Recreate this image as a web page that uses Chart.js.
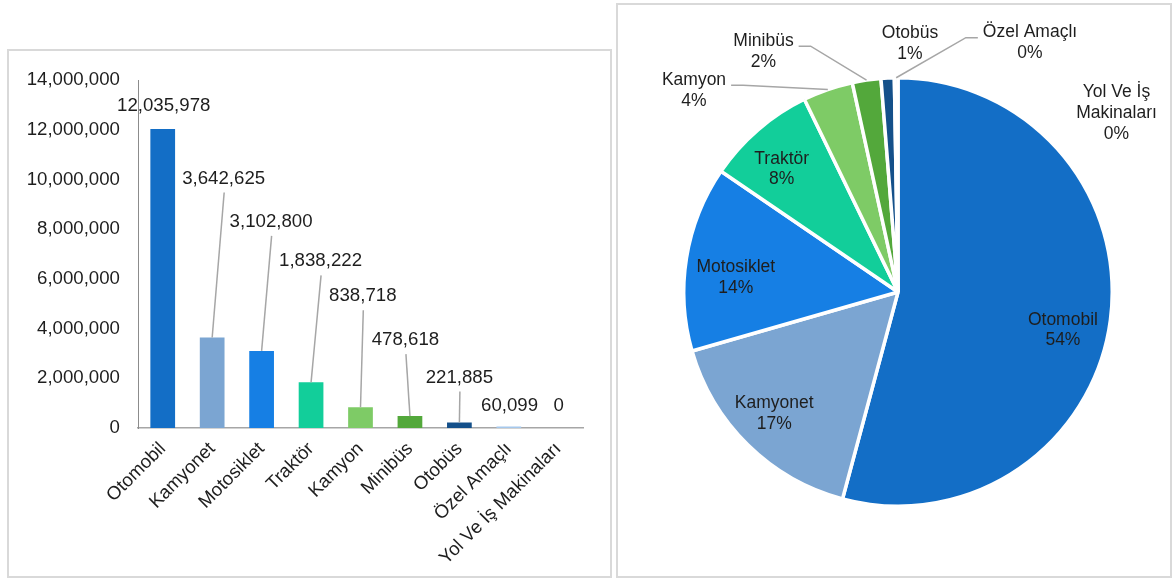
<!DOCTYPE html>
<html>
<head>
<meta charset="utf-8">
<script src="https://cdn.jsdelivr.net/npm/chart.js@4.4.1/dist/chart.umd.min.js"></script>
<style>
  html, body { margin: 0; padding: 0; background: #fff; width: 1173px; height: 581px; overflow: hidden; }
  .box { position: absolute; box-sizing: border-box; border: 2px solid #d9d9d9; background: #fff; }
  canvas { position: absolute; }
</style>
</head>
<body>
<div class="box" style="left:7px;top:49px;width:605px;height:529px"></div>
<div class="box" style="left:616px;top:3px;width:556px;height:575px"></div>
<canvas id="barChart" width="601" height="525" style="left:9px;top:51px"></canvas>
<canvas id="pieChart" width="552" height="571" style="left:618px;top:5px"></canvas>
<script>
// Vehicle registrations by type
const categories = ['Otomobil', 'Kamyonet', 'Motosiklet', 'Traktör', 'Kamyon', 'Minibüs', 'Otobüs', 'Özel Amaçlı', 'Yol Ve İş Makinaları'];
const vehicleCounts = [12035978, 3642625, 3102800, 1838222, 838718, 478618, 221885, 60099, 0];
const yTicks = [0, 2000000, 4000000, 6000000, 8000000, 10000000, 12000000, 14000000];

// Colours per vehicle type (shared by both charts)
const typeColors = ['#136EC6', '#7BA5D2', '#167FE4', '#12CE9A', '#7ECB66', '#53A83B', '#14508A', '#A5C8EC', '#5B9BD5'];

// Bar value-label placement: offset (px) from the top of each bar
const valueLabelOffsets = [[1, -23], [11.5, -159], [9.5, -129], [9.5, -121], [2.3, -111], [-4.5, -76], [0, -45], [0.7, -21], [0.5, -22.5]];

// Pie label placement: inside labels use a radial fraction and angle nudge (deg),
// outside labels an offset (px) from the pie centre and the side a leader line leaves from
const pieLabelLayout = [
  { r: 0.79, da: 5.5 },
  { r: 0.81, da: 1 },
  { r: 0.76, da: -4 },
  { r: 0.79, da: -2.6 },
  { dx: -204, dy: -201.5, leader: 'right' },
  { dx: -134.5, dy: -240.5, leader: 'right' },
  { dx: 12, dy: -248, leader: null },
  { dx: 132, dy: -249, leader: 'left' },
  { dx: 218.5, dy: -179, leader: null }
];

const FONT_FAMILY = '"Liberation Sans", Arial, sans-serif';
const TEXT_COLOR = '#1e1e1e';
const LEADER_COLOR = '#a6a6a6';

function fmt(v) { return v.toLocaleString('en-US'); }

// Whole-number percentages that add up to 100 (largest remainder)
function roundedPercents(values) {
  const total = values.reduce((a, b) => a + b, 0);
  const raw = values.map(v => v / total * 100);
  const out = raw.map(Math.floor);
  let left = 100 - out.reduce((a, b) => a + b, 0);
  const order = raw.map((r, i) => [r - out[i], i]).sort((a, b) => b[0] - a[0]);
  for (let k = 0; k < left; k++) out[order[k][1]]++;
  return out;
}

// ---------- Bar chart ----------
const barValueLabels = {
  id: 'barValueLabels',
  afterDatasetsDraw(chart) {
    const ctx = chart.ctx;
    const meta = chart.getDatasetMeta(0);
    ctx.save();
    ctx.font = '18.67px ' + FONT_FAMILY;
    ctx.textAlign = 'center';
    ctx.textBaseline = 'middle';
    meta.data.forEach((bar, i) => {
      const [dx, dy] = valueLabelOffsets[i];
      const lx = bar.x + dx, ly = bar.y + dy;
      if (dy < -35) {
        ctx.strokeStyle = LEADER_COLOR;
        ctx.lineWidth = 1.5;
        ctx.beginPath();
        ctx.moveTo(lx + 0.5, ly + 14);
        ctx.lineTo(bar.x, bar.y);
        ctx.stroke();
      }
      ctx.fillStyle = TEXT_COLOR;
      ctx.fillText(fmt(vehicleCounts[i]), lx, ly);
    });
    ctx.restore();
  }
};

new Chart(document.getElementById('barChart'), {
  type: 'bar',
  data: {
    labels: categories,
    datasets: [{
      data: vehicleCounts,
      backgroundColor: typeColors,
      borderWidth: 0,
      barPercentage: 0.5,
      categoryPercentage: 1
    }]
  },
  options: {
    responsive: false,
    animation: false,
    events: [],
    layout: { padding: { top: 29, right: 27, left: 0, bottom: 0 } },
    plugins: { legend: { display: false }, tooltip: { enabled: false } },
    scales: {
      x: {
        grid: { display: false, drawTicks: false },
        border: { display: true, color: '#a6a6a6', width: 1.5 },
        ticks: {
          autoSkip: false, maxRotation: 45, minRotation: 45, padding: 10,
          color: TEXT_COLOR, font: { family: FONT_FAMILY, size: 18.67 }
        },
        afterFit(scale) { scale.height = 148; }
      },
      y: {
        min: yTicks[0], max: yTicks[yTicks.length - 1],
        grid: { display: false, drawTicks: false },
        border: { display: true, color: '#8c8c8c', width: 1 },
        afterBuildTicks(scale) { scale.ticks = yTicks.map(v => ({ value: v })); },
        ticks: {
          padding: 18, color: TEXT_COLOR,
          font: { family: FONT_FAMILY, size: 18.67 },
          callback: v => fmt(v)
        },
        afterFit(scale) { scale.width = 129; }
      }
    }
  },
  plugins: [barValueLabels]
});

// ---------- Pie chart ----------
const piePercents = roundedPercents(vehicleCounts);

function wrapText(ctx, text, maxWidth) {
  const words = text.split(' ');
  const lines = [];
  let cur = '';
  words.forEach(w => {
    const t = cur ? cur + ' ' + w : w;
    if (cur && ctx.measureText(t).width > maxWidth) { lines.push(cur); cur = w; }
    else cur = t;
  });
  if (cur) lines.push(cur);
  return lines;
}

const pieLabels = {
  id: 'pieLabels',
  afterDatasetsDraw(chart) {
    const ctx = chart.ctx;
    const meta = chart.getDatasetMeta(0);
    const lineH = 20.7;
    ctx.save();
    ctx.font = '17.5px ' + FONT_FAMILY;
    ctx.textAlign = 'center';
    ctx.textBaseline = 'middle';
    meta.data.forEach((arc, i) => {
      const L = pieLabelLayout[i];
      const lines = wrapText(ctx, categories[i], 110).concat([piePercents[i] + '%']);
      const mid = (arc.startAngle + arc.endAngle) / 2;
      const R = arc.outerRadius;
      let cx, cy;
      if (L.r !== undefined) {
        const a = mid + L.da * Math.PI / 180;
        cx = arc.x + Math.cos(a) * L.r * R;
        cy = arc.y + Math.sin(a) * L.r * R;
      } else {
        cx = arc.x + L.dx;
        cy = arc.y + L.dy;
      }
      const top = cy - (lines.length - 1) * lineH / 2;
      if (L.leader) {
        const w = Math.max(...lines.map(s => ctx.measureText(s).width));
        const sx = L.leader === 'right' ? cx + w / 2 + 5 : cx - w / 2 - 5;
        const sy = top + 5;
        const ex = sx + (L.leader === 'right' ? 12 : -12);
        ctx.strokeStyle = LEADER_COLOR;
        ctx.lineWidth = 1.5;
        ctx.beginPath();
        ctx.moveTo(sx, sy);
        ctx.lineTo(ex, sy);
        ctx.lineTo(arc.x + Math.cos(mid) * R, arc.y + Math.sin(mid) * R);
        ctx.stroke();
      }
      ctx.fillStyle = TEXT_COLOR;
      lines.forEach((s, k) => ctx.fillText(s, cx, top + k * lineH));
    });
    ctx.restore();
  }
};

new Chart(document.getElementById('pieChart'), {
  type: 'pie',
  data: {
    labels: categories,
    datasets: [{
      data: vehicleCounts,
      backgroundColor: typeColors,
      borderColor: '#ffffff',
      borderWidth: 3.5
    }]
  },
  options: {
    responsive: false,
    animation: false,
    events: [],
    layout: { padding: { left: 64, right: 56, top: 71, bottom: 68 } },
    plugins: { legend: { display: false }, tooltip: { enabled: false } }
  },
  plugins: [pieLabels]
});
</script>
</body>
</html>
